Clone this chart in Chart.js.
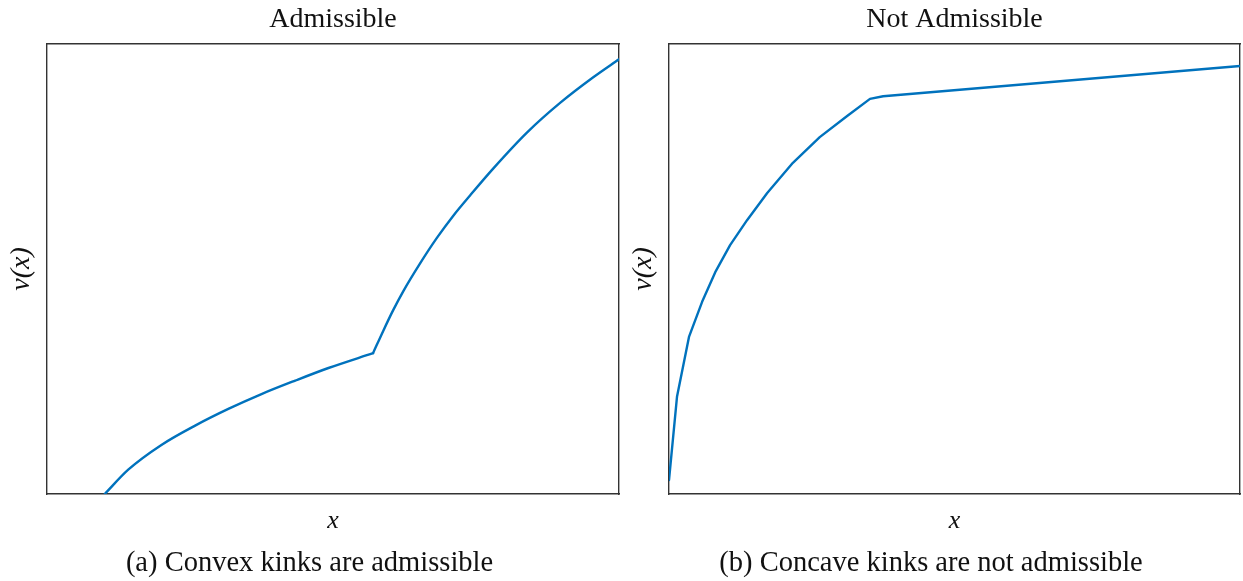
<!DOCTYPE html>
<html>
<head>
<meta charset="utf-8">
<script src="https://cdn.jsdelivr.net/npm/chart.js@4/dist/chart.umd.min.js"></script>
<style>
  html, body { margin: 0; padding: 0; background: #fff; overflow: hidden; }
  .panel { position: absolute; top: 0; width: 621px; height: 581px; }
  #p1 { left: 0; }
  #p2 { left: 622px; }
</style>
</head>
<body>
<div class="panel" id="p1"><canvas id="graficoA"></canvas></div>
<div class="panel" id="p2"><canvas id="graficoB"></canvas></div>
<script>
  /* dados (eixos normalizados 0..1) */
  const titulos = ["Admissible", "Not Admissible"];
  const legendas = ["(a) Convex kinks are admissible", "(b) Concave kinks are not admissible"];
  const rotuloX = "x";
  const rotuloY = "v(x)";

  // painel (a): ramo antes do kink convexo (x ~ 0.57)
  const xA1 = [0.101, 0.142, 0.200, 0.259, 0.317, 0.375, 0.434, 0.492, 0.570];
  const yA1 = [0.000, 0.054, 0.109, 0.152, 0.189, 0.222, 0.252, 0.280, 0.313];
  // painel (a): ramo depois do kink
  const xA2 = [0.570, 0.588, 0.605, 0.623, 0.652, 0.681, 0.710, 0.740, 0.780, 0.839, 0.897, 0.955, 1.000];
  const yA2 = [0.313, 0.363, 0.408, 0.451, 0.512, 0.568, 0.618, 0.664, 0.723, 0.803, 0.869, 0.926, 0.966];

  // painel (b): kink concavo em x ~ 0.35
  const xB = [0.000, 0.014, 0.035, 0.058, 0.081, 0.107, 0.137, 0.172,
              0.217, 0.264, 0.312, 0.352, 0.375, 1.000];
  const yB = [0.031, 0.216, 0.349, 0.427, 0.493, 0.553, 0.609, 0.669,
              0.736, 0.793, 0.840, 0.878, 0.884, 0.951];

  const azul = "#0072BD";
  const eixo = "#333333";
  const texto = "#111111";
  const serif = "'Liberation Serif', 'DejaVu Serif', serif";

  const borda = { display: true, color: eixo, width: 1.4 };
  const semGrade = { display: false, drawTicks: false };

  const pares = (xs, ys) => xs.map((x, i) => ({ x, y: ys[i] }));

  const serie = (xs, ys, suave) => ({
    data: pares(xs, ys),
    borderColor: azul,
    borderWidth: 2.4,
    borderCapStyle: "round",
    borderJoinStyle: "round",
    pointRadius: 0,
    tension: 0,
    cubicInterpolationMode: suave ? "monotone" : "default",
    fill: false
  });

  function criarGrafico(id, datasets, titulo, legenda, padRight) {
    return new Chart(document.getElementById(id), {
      type: "line",
      data: { datasets },
      options: {
        responsive: true,
        maintainAspectRatio: false,
        animation: false,
        events: [],
        layout: { padding: { left: 0, right: padRight, top: 0, bottom: 0 } },
        plugins: {
          legend: { display: false },
          tooltip: { enabled: false },
          title: { display: false },
          subtitle: {
            display: true,
            position: "bottom",
            text: legenda,
            color: texto,
            font: { family: serif, size: 28.5, weight: "normal", lineHeight: 1.2 },
            padding: { top: 5.4, bottom: 0 }
          }
        },
        scales: {
          x: {
            type: "linear", min: 0, max: 1,
            grid: semGrade,
            ticks: { display: false },
            border: borda,
            title: {
              display: true, text: rotuloX, color: texto,
              font: { family: serif, size: 26, style: "italic", lineHeight: 1.2 },
              padding: { top: 0, bottom: 4.8 }
            },
            afterFit: s => { s.height = 47.4; }
          },
          y: {
            type: "linear", min: 0, max: 1,
            grid: semGrade,
            ticks: { display: false },
            border: borda,
            title: {
              display: true, text: rotuloY, color: texto,
              font: { family: serif, size: 28, style: "italic", lineHeight: 1.2 },
              padding: { top: 5, bottom: 0 }
            },
            afterFit: s => { s.width = 47; }
          },
          // eixo de cima carrega o titulo centrado na area do grafico
          xTopo: {
            type: "linear", position: "top", min: 0, max: 1,
            grid: semGrade,
            ticks: { display: false },
            border: borda,
            title: {
              display: true, text: titulo, color: texto,
              font: { family: serif, size: 28, weight: "normal", lineHeight: 1.2 },
              padding: { top: 3.2, bottom: 0 }
            },
            afterFit: s => { s.height = 44; }
          },
          yDir: {
            type: "linear", position: "right", min: 0, max: 1,
            grid: semGrade,
            ticks: { display: false },
            border: borda,
            afterFit: s => { s.width = 0; }
          }
        }
      }
    });
  }

  criarGrafico("graficoA",
    [serie(xA1, yA1, true), serie(xA2, yA2, true)],
    titulos[0], legendas[0], 2);
  criarGrafico("graficoB",
    [serie(xB, yB, false)],
    titulos[1], legendas[1], 3);
</script>
</body>
</html>
